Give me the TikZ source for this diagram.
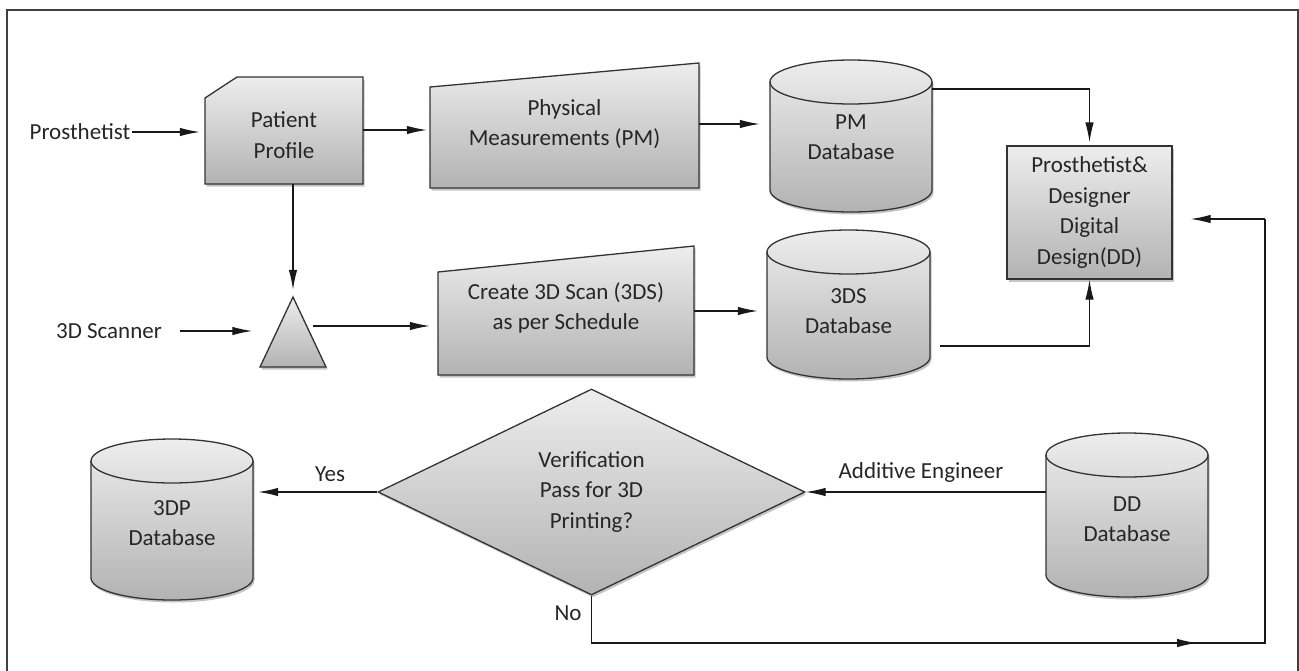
\documentclass[tikz,border=0pt]{standalone}
\usepackage{fontspec}
\setmainfont{Carlito}
\usetikzlibrary{arrows.meta,shapes.geometric,calc,shadows}
\newcommand\diafs{\fontsize{23}{30.5}\selectfont}
\newcommand\dbshape[4]{%
  \pgfmathsetmacro\dbrx{(#2-#1)/2}%
  \draw[shp] ({#1},{-(#3+22)}) -- ({#1},{-(#4-22)}) arc[start angle=180,end angle=360,x radius=\dbrx,y radius=22] -- ({#2},{-(#3+22)}) arc[start angle=0,end angle=180,x radius=\dbrx,y radius=22] -- cycle;
  \draw[edge] ({#1},{-(#3+22)}) arc[start angle=180,end angle=360,x radius=\dbrx,y radius=22];
}
\tikzset{
  edge/.style={draw=black!80, line width=1.3pt},
  shp/.style={edge, top color=black!7, bottom color=black!30,
     drop shadow={shadow xshift=1.5pt, shadow yshift=-2.5pt, fill=black!45, opacity=0.5}},
  txt/.style={font=\diafs, align=center, text=black!85, inner sep=1pt},
  anch/.style={txt, minimum height=20pt},
  conn/.style={line width=1.3pt, draw=black!90},
  arr/.style={conn, -{Latex[length=20pt,width=8.5pt]}},
}
\begin{document}
\begin{tikzpicture}[x=1pt,y=1pt]
\useasboundingbox (0,0) rectangle (1299,-670);
% frame
\draw[line width=1.5pt, black!75] (7,-680) -- (7,-10) -- (1298,-10) -- (1298,-680);

% shapes
\draw[shp] (205,-184) -- (363,-184) -- (363,-77) -- (237,-77) -- (205,-98) -- cycle;
\draw[shp] (430,-188) -- (699,-188) -- (699,-63) -- (430,-87) -- cycle;
\draw[shp] (438,-375) -- (694,-375) -- (694,-246) -- (438,-272) -- cycle;
\draw[shp] (260,-367) -- (326,-367) -- (293,-297) -- cycle;
\dbshape{770}{932}{60}{212}
\dbshape{767}{930}{230}{379}
\dbshape{91}{253}{439}{600}
\dbshape{1046}{1208}{433}{597}

% nodes
\node[txt] (prost) at (80,-132) {Prosthetist};
\node[anch, minimum width=158pt, minimum height=98pt] (pp) at (284,-135) {Patient\\Profile};
\node[anch, minimum width=269pt] (pm) at (564.5,-124) {Physical\\Measurements (PM)};
\node[anch, minimum width=162pt] (pmdb) at (851,-137) {PM\\Database};
\node[txt, shp, minimum width=165pt, minimum height=133pt, inner sep=0pt] (dd) at (1089.5,-212.5) {Prosthetist\&\\Designer\\Digital\\Design(DD)};
\node[txt] (scan) at (109,-331) {3D Scanner};
\node[minimum width=67pt, minimum height=70pt, inner sep=0pt] (tri) at (293,-332) {};
\node[anch, minimum width=256pt] (cr) at (566,-308) {Create 3D Scan (3DS)\\as per Schedule};
\node[anch, minimum width=163pt] (dsdb) at (848.5,-311) {3DS\\Database};
\node[txt, shp, diamond, minimum width=427pt, minimum height=206pt, inner sep=0pt] (dia) at (591.5,-492) {Verification\\Pass for 3D\\Printing?};
\node[anch, minimum width=162pt] (dpdb) at (172,-523) {3DP\\Database};
\node[anch, minimum width=162pt] (dddb) at (1127,-519) {DD\\Database};
\node[txt] (yes) at (330,-474) {Yes};
\node[txt] (no) at (568,-613) {No};
\node[txt] (addeng) at (921,-472) {Additive Engineer};

% connectors
\coordinate (triout) at ([xshift=-14pt, yshift=6pt]tri.east);
\coordinate (rcorner) at (1265,-643);
\coordinate (nocorner) at (dia.south |- rcorner);
\coordinate (rtop) at (1265,-219);
\coordinate (midarrow) at (1197,-643);
\draw[arr, shorten >=5pt] (prost.east) -- (pp.west |- prost.east);
\draw[arr, shorten >=3pt] ([yshift=5pt]pp.east) -- ([yshift=-6pt]pm.west);
\draw[arr, shorten >=10pt] (pm.east) -- (pm.east -| pmdb.west);
\draw[arr, shorten >=3pt] ([yshift=48pt]pmdb.east) -| (dd.north);
\draw[arr, shorten >=7pt] (tri.north |- pp.south) -- (tri.north);
\draw[arr, shorten <=17pt, shorten >=7pt] (scan.east) -- (scan.east -| tri.west);
\draw[arr, shorten >=8pt] (triout) -- (triout -| cr.west);
\draw[arr, shorten >=9pt] (cr.east |- dsdb.east) -- (dsdb.west);
\draw[arr, shorten <=10pt] ([yshift=-35pt]dsdb.east) -| (dd.south);
\draw[arr, shorten >=5pt] (dia.west) -- (dia.west -| dpdb.east);
\draw[arr] (dia.east -| dddb.west) -- (dia.east);
\draw[conn] (dia.south) -- (nocorner) -- (rcorner) -- (rtop);
\draw[arr] (nocorner) -- (midarrow);
\draw[arr, shorten >=18pt] (rtop) -- (rtop -| dd.east);
\end{tikzpicture}
\end{document}
